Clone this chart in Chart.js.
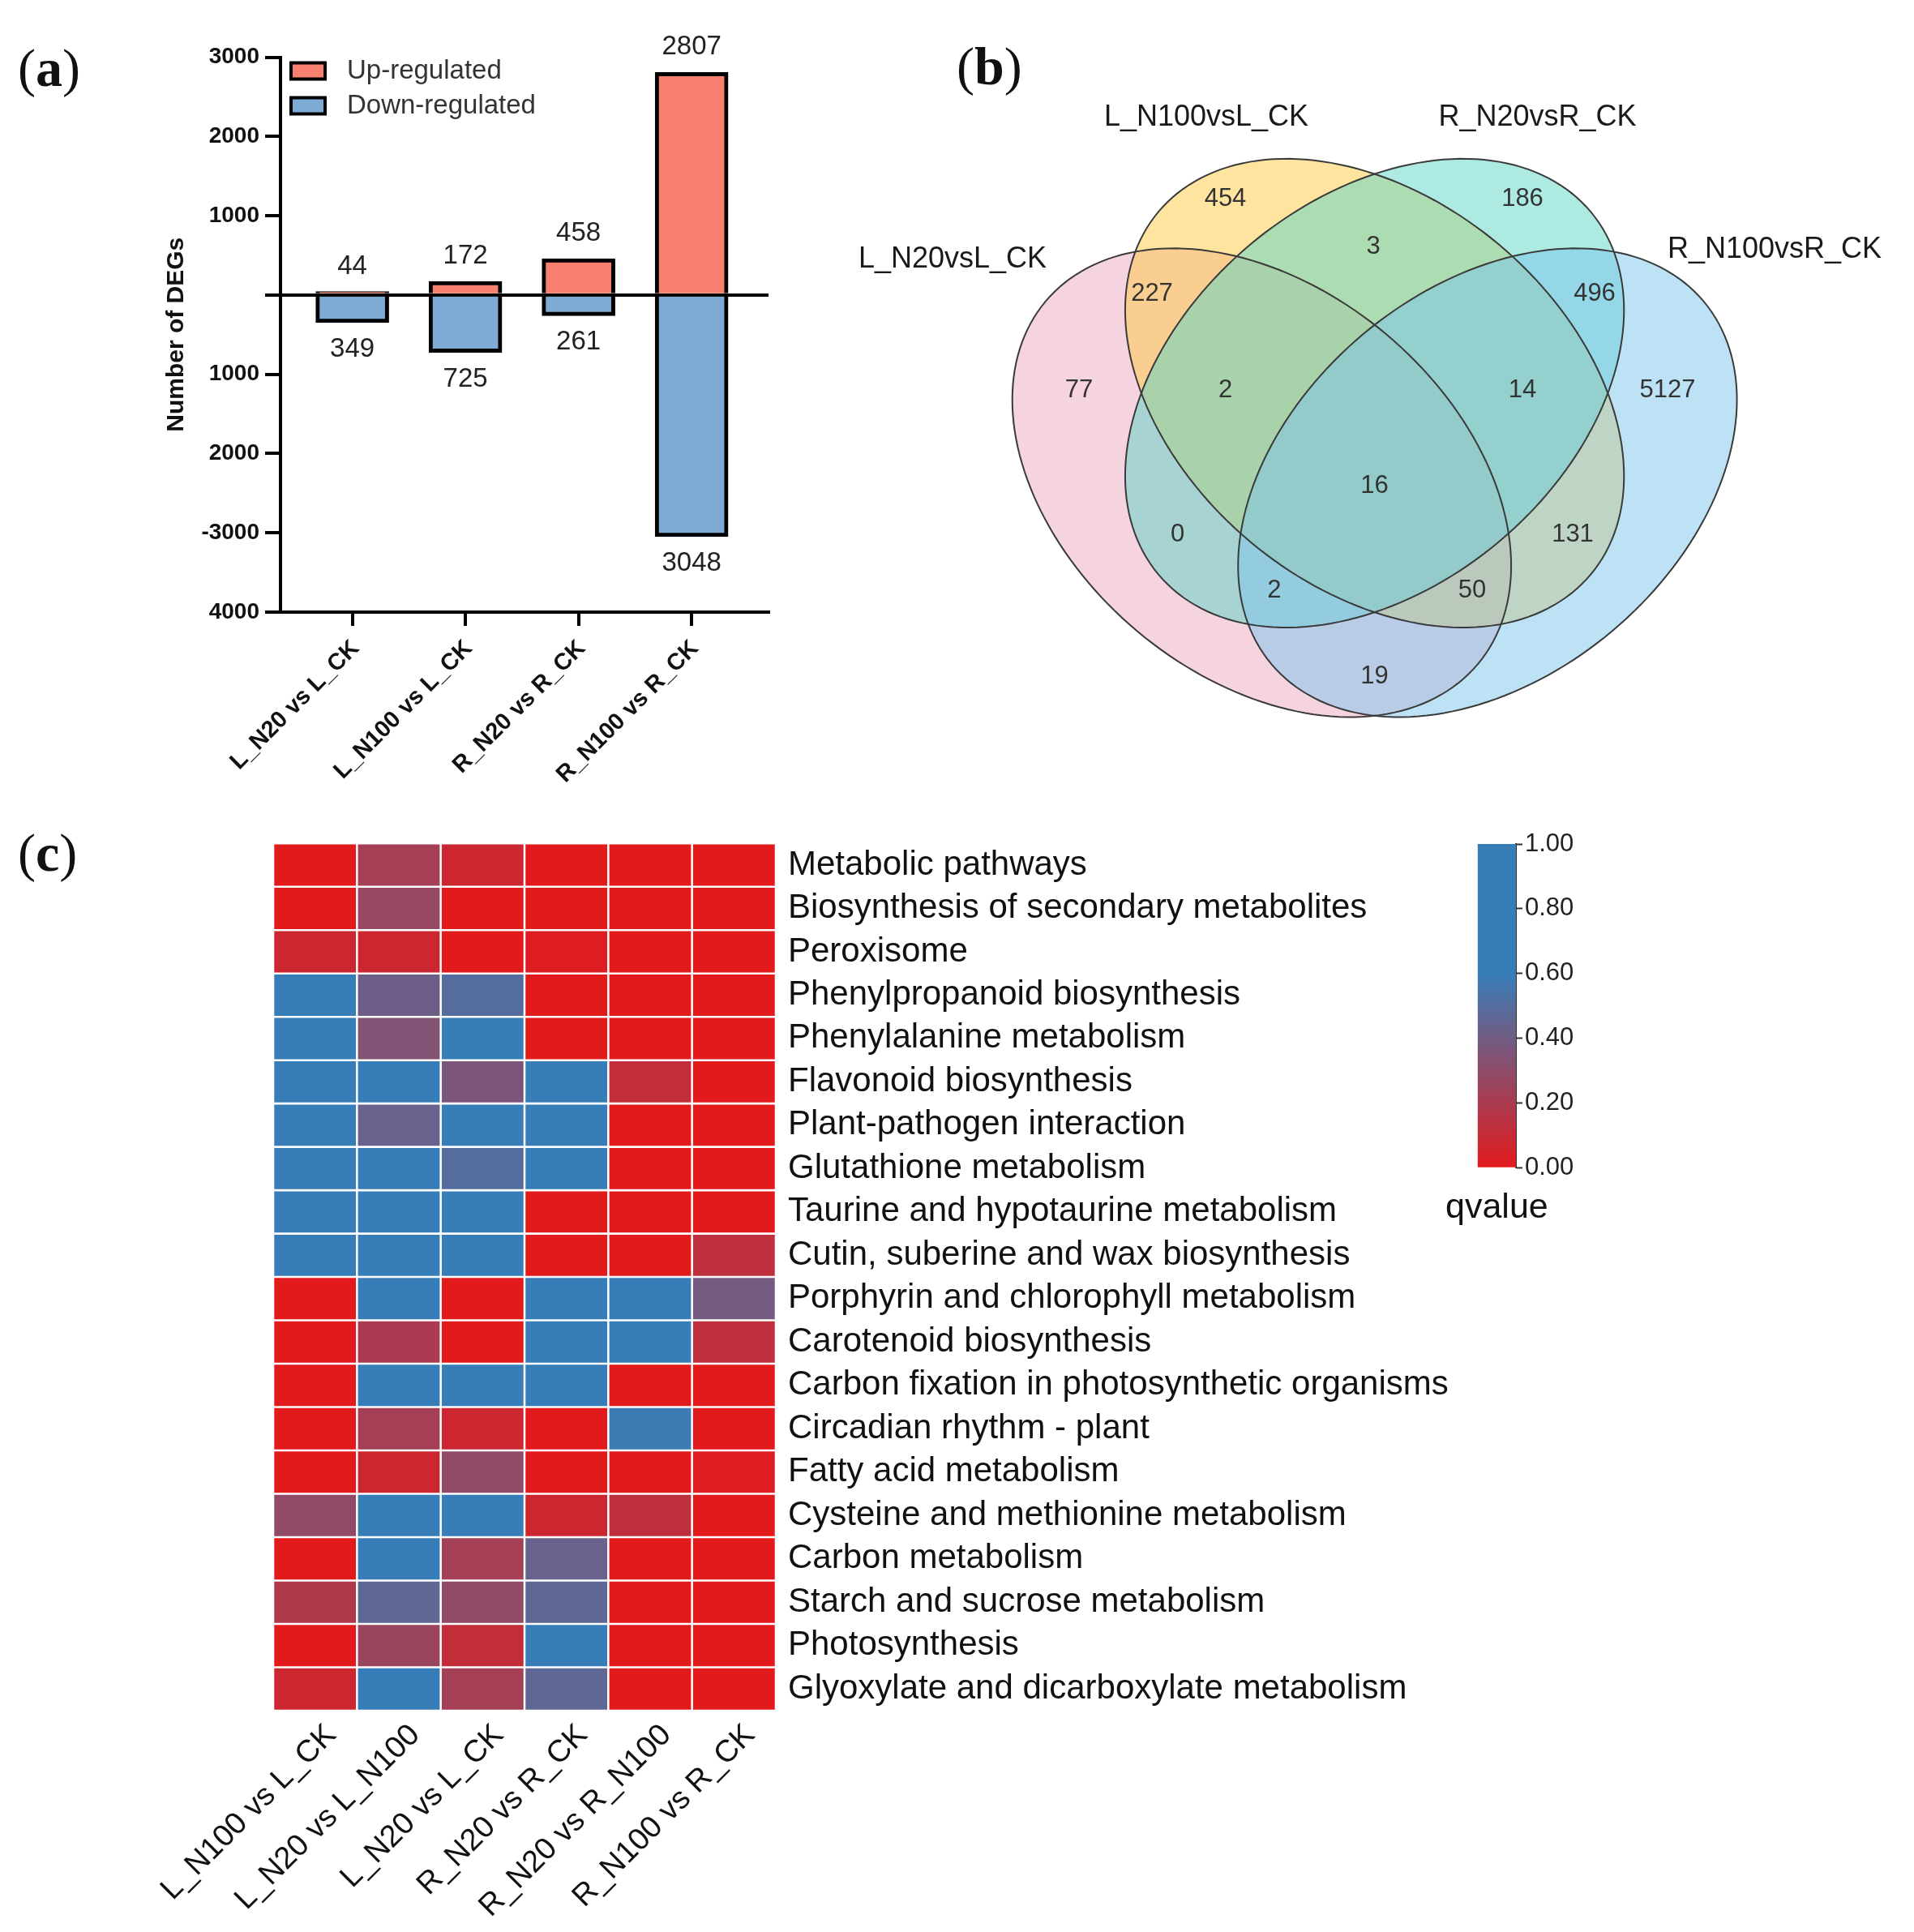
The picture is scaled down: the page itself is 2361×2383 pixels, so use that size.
<!DOCTYPE html>
<html>
<head>
<meta charset="utf-8">
<script src="https://cdn.jsdelivr.net/npm/chart.js@4.4.1/dist/chart.umd.min.js"></script>
<style>
html,body{margin:0;padding:0;background:#fff;width:2361px;height:2383px;overflow:hidden;}
canvas{position:absolute;}
.plabel{position:absolute;font-family:"Liberation Serif","DejaVu Serif",serif;font-size:66px;color:#111;line-height:1;white-space:nowrap;}
.plabel b{font-weight:bold;}
</style>
</head>
<body>
<div class="plabel" style="left:22px;top:51px">(<b>a</b>)</div>
<div class="plabel" style="left:1180px;top:49px">(<b>b</b>)</div>
<div class="plabel" style="left:22px;top:1019px">(<b>c</b>)</div>
<canvas id="barChart" width="1040" height="1000" style="left:0;top:0;"></canvas>
<canvas id="vennChart" width="1321" height="850" style="left:1040px;top:100px;"></canvas>
<canvas id="heatChart" width="1800" height="1383" style="left:0;top:1000px;"></canvas>
<canvas id="cbarChart" width="420" height="560" style="left:1700px;top:1000px;"></canvas>
<script>
// ---------------- DATA ----------------
// (a) number of DEGs
const degCategories = ['L_N20 vs L_CK', 'L_N100 vs L_CK', 'R_N20 vs R_CK', 'R_N100 vs R_CK'];
const upRegulated = [44, 172, 458, 2807];
const downRegulated = [349, 725, 261, 3048];
const degTickLabels = ['4000', '-3000', '2000', '1000', '', '1000', '2000', '3000']; // -4000 .. 3000

// (b) Venn diagram
const vennSets = ['L_N20vsL_CK', 'L_N100vsL_CK', 'R_N20vsR_CK', 'R_N100vsR_CK'];
const vennCounts = [454, 186, 3, 227, 496, 77, 2, 14, 5127, 16, 0, 131, 2, 50, 19];

// (c) KEGG heatmap (qvalue)
const pathways = [
  'Metabolic pathways', 'Biosynthesis of secondary metabolites', 'Peroxisome',
  'Phenylpropanoid biosynthesis', 'Phenylalanine metabolism', 'Flavonoid biosynthesis',
  'Plant-pathogen interaction', 'Glutathione metabolism', 'Taurine and hypotaurine metabolism',
  'Cutin, suberine and wax biosynthesis', 'Porphyrin and chlorophyll metabolism',
  'Carotenoid biosynthesis', 'Carbon fixation in photosynthetic organisms',
  'Circadian rhythm - plant', 'Fatty acid metabolism', 'Cysteine and methionine metabolism',
  'Carbon metabolism', 'Starch and sucrose metabolism', 'Photosynthesis',
  'Glyoxylate and dicarboxylate metabolism'
];
const comparisons = ['L_N100 vs L_CK', 'L_N20 vs L_N100', 'L_N20 vs L_CK', 'R_N20 vs R_CK', 'R_N20 vs R_N100', 'R_N100 vs R_CK'];
const q_LN100_vs_LCK   = [0.00, 0.00, 0.08, 0.85, 0.80, 0.90, 0.78, 0.82, 0.88, 0.86, 0.00, 0.00, 0.00, 0.00, 0.00, 0.29, 0.00, 0.18, 0.00, 0.08];
const q_LN20_vs_LN100  = [0.22, 0.27, 0.08, 0.41, 0.34, 0.75, 0.43, 0.80, 0.92, 0.88, 0.83, 0.20, 0.77, 0.22, 0.08, 0.79, 0.84, 0.46, 0.25, 0.70];
const q_LN20_vs_LCK    = [0.08, 0.00, 0.00, 0.50, 0.72, 0.36, 0.68, 0.50, 0.81, 0.76, 0.00, 0.00, 0.74, 0.08, 0.29, 0.71, 0.22, 0.29, 0.11, 0.22];
const q_RN20_vs_RCK    = [0.00, 0.00, 0.02, 0.00, 0.00, 0.66, 0.70, 0.69, 0.00, 0.00, 0.73, 0.79, 0.65, 0.00, 0.00, 0.08, 0.43, 0.46, 0.62, 0.46];
const q_RN20_vs_RN100  = [0.00, 0.00, 0.00, 0.00, 0.00, 0.11, 0.00, 0.00, 0.00, 0.00, 0.64, 0.67, 0.00, 0.58, 0.00, 0.13, 0.00, 0.00, 0.00, 0.00];
const q_RN100_vs_RCK   = [0.00, 0.00, 0.00, 0.00, 0.00, 0.00, 0.00, 0.00, 0.00, 0.13, 0.39, 0.13, 0.00, 0.00, 0.02, 0.00, 0.00, 0.00, 0.00, 0.00];
const qColumns = [q_LN100_vs_LCK, q_LN20_vs_LN100, q_LN20_vs_LCK, q_RN20_vs_RCK, q_RN20_vs_RN100, q_RN100_vs_RCK];
const cbarTickLabels = ['0.00', '0.20', '0.40', '0.60', '0.80', '1.00'];

// ---------------- LAYOUT / STYLE (not data) ----------------
const FONT = '"Liberation Sans", Arial, Helvetica, sans-serif';
Chart.defaults.font.family = FONT;
Chart.defaults.animation = false;
const UP_COLOR = '#F8806F';
const DOWN_COLOR = '#7EABD3';
const cmapStops = [[0, [227, 26, 28]], [0.6, [55, 126, 184]], [1, [55, 126, 184]]];
function qColor(q) {
  for (let i = 1; i < cmapStops.length; i++) {
    const [v0, c0] = cmapStops[i - 1], [v1, c1] = cmapStops[i];
    if (q <= v1) {
      const t = (q - v0) / (v1 - v0);
      const c = c0.map((x, k) => Math.round(x + (c1[k] - x) * t));
      return `rgb(${c[0]},${c[1]},${c[2]})`;
    }
  }
  const c = cmapStops[cmapStops.length - 1][1];
  return `rgb(${c[0]},${c[1]},${c[2]})`;
}
// Venn geometry (units of the venn chart's scales)
const vennEllipses = [
  { cx: 0.4564, cy: 0.3546, a: 0.348, b: 0.239, rot: -40, fill: 'rgba(235,169,193,0.5)' },
  { cx: 0.5956, cy: 0.4651, a: 0.348, b: 0.239, rot: -40, fill: 'rgba(255,201,65,0.5)' },
  { cx: 0.5956, cy: 0.4651, a: 0.348, b: 0.239, rot: 40,  fill: 'rgba(89,213,197,0.5)' },
  { cx: 0.7349, cy: 0.3546, a: 0.348, b: 0.239, rot: 40,  fill: 'rgba(125,197,235,0.5)' }
];
const vennCountPos = [[0.4115,0.705],[0.778,0.705],[0.594,0.646],[0.321,0.588],[0.867,0.588],[0.231,0.4685],[0.4115,0.4685],[0.778,0.4685],[0.957,0.4685],[0.5956,0.351],[0.3526,0.291],[0.840,0.291],[0.4718,0.222],[0.716,0.222],[0.5956,0.116]];
const vennSetPos = [[0.075,0.63],[0.388,0.805],[0.7965,0.805],[1.089,0.642]];

// ---------------- (a) BAR CHART ----------------
const barLabelPlugin = {
  id: 'barLabels',
  afterDatasetsDraw(chart) {
    const c = chart.ctx;
    c.save();
    c.font = '33px ' + FONT;
    c.fillStyle = '#222';
    c.textAlign = 'center';
    c.textBaseline = 'middle';
    chart.getDatasetMeta(0).data.forEach((el, i) => c.fillText(String(upRegulated[i]), el.x, el.y - 31));
    chart.getDatasetMeta(1).data.forEach((el, i) => c.fillText(String(downRegulated[i]), el.x, el.y + 33));
    // legend
    const ca = chart.chartArea;
    chart.data.datasets.forEach((ds, i) => {
      const y = ca.top + 7 + i * 43;
      c.fillStyle = ds.backgroundColor;
      c.fillRect(ca.left + 13, y, 42, 20);
      c.lineWidth = 4;
      c.strokeStyle = '#000';
      c.strokeRect(ca.left + 13, y, 42, 20);
      c.fillStyle = '#333';
      c.textAlign = 'left';
      c.fillText(ds.label, ca.left + 82, y + 10);
    });
    c.restore();
  }
};
new Chart(document.getElementById('barChart'), {
  type: 'bar',
  data: {
    datasets: [
      { label: 'Up-regulated', data: upRegulated.map((v, i) => ({ x: i + 1, y: v })),
        backgroundColor: UP_COLOR, borderColor: '#000', borderWidth: 5, borderSkipped: 'start', barThickness: 90 },
      { label: 'Down-regulated', data: downRegulated.map((v, i) => ({ x: i + 1, y: -v })),
        backgroundColor: DOWN_COLOR, borderColor: '#000', borderWidth: 5, borderSkipped: 'start', barThickness: 90 }
    ]
  },
  options: {
    responsive: false,
    animation: false,
    layout: { padding: { left: 0, right: 92, top: 70.5, bottom: 0 } },
    plugins: { legend: { display: false }, tooltip: { enabled: false } },
    scales: {
      x: {
        type: 'linear', stacked: true, min: 0.365, max: 4.68, offset: false,
        afterBuildTicks: (s) => { s.ticks = degCategories.map((_, i) => ({ value: i + 1 })); },
        afterFit: (s) => { s.height = 245; },
        grid: { offset: false, drawOnChartArea: false, color: '#000', tickColor: '#000', tickLength: 17, tickWidth: 4, lineWidth: 4 },
        border: { color: '#000', width: 4 },
        ticks: { includeBounds: false, autoSkip: false, minRotation: 45, maxRotation: 45, padding: 11, labelOffset: 4,
          color: '#111', font: { size: 29, weight: 'bold' },
          callback: (v) => degCategories[v - 1] }
      },
      y: {
        type: 'linear', stacked: true, min: -4000, max: 3000,
        afterFit: (s) => { s.width = 346; },
        grid: { color: (ctx) => (ctx.tick && ctx.tick.value === 0 ? '#000' : 'rgba(0,0,0,0)'),
          lineWidth: 4, tickColor: '#000', tickLength: 19, tickWidth: 4 },
        border: { color: '#000', width: 4 },
        ticks: { stepSize: 1000, padding: 7, color: '#111', font: { size: 28, weight: 'bold' },
          callback: (v, i) => degTickLabels[i] },
        title: { display: true, text: 'Number of DEGs', color: '#111',
          font: { size: 30, weight: 'bold' }, padding: { top: 200, bottom: 0 } }
      }
    }
  },
  plugins: [barLabelPlugin]
});

// ---------------- (b) VENN ----------------
const vennPlugin = {
  id: 'venn',
  beforeDatasetsDraw(chart) {
    const c = chart.ctx, xs = chart.scales.x, ys = chart.scales.y;
    const path = (e) => {
      const th = e.rot * Math.PI / 180;
      c.beginPath();
      for (let k = 0; k <= 180; k++) {
        const t = 2 * Math.PI * k / 180;
        const dx = e.a * Math.cos(t) * Math.cos(th) - e.b * Math.sin(t) * Math.sin(th);
        const dy = e.a * Math.cos(t) * Math.sin(th) + e.b * Math.sin(t) * Math.cos(th);
        const px = xs.getPixelForValue(e.cx + dx), py = ys.getPixelForValue(e.cy + dy);
        if (k === 0) c.moveTo(px, py); else c.lineTo(px, py);
      }
      c.closePath();
    };
    c.save();
    vennEllipses.forEach((e) => { path(e); c.fillStyle = e.fill; c.fill(); });
    c.lineWidth = 2;
    c.strokeStyle = '#3a3a3a';
    vennEllipses.forEach((e) => { path(e); c.stroke(); });
    c.restore();
  },
  afterDatasetsDraw(chart) {
    const c = chart.ctx;
    c.save();
    c.textAlign = 'center';
    c.textBaseline = 'middle';
    c.font = '31px ' + FONT;
    c.fillStyle = '#333';
    chart.getDatasetMeta(0).data.forEach((el, i) => c.fillText(String(vennCounts[i]), el.x, el.y));
    c.font = '36px ' + FONT;
    c.fillStyle = '#1a1a1a';
    chart.getDatasetMeta(1).data.forEach((el, i) => c.fillText(vennSets[i], el.x, el.y));
    c.restore();
  }
};
new Chart(document.getElementById('vennChart'), {
  type: 'scatter',
  data: {
    datasets: [
      { data: vennCountPos.map(([x, y]) => ({ x, y })), pointRadius: 0 },
      { data: vennSetPos.map(([x, y]) => ({ x, y })), pointRadius: 0 }
    ]
  },
  options: {
    responsive: false, animation: false,
    layout: { padding: 0 },
    plugins: { legend: { display: false }, tooltip: { enabled: false } },
    scales: {
      x: { type: 'linear', min: -0.06, max: 1.261, display: false },
      y: { type: 'linear', min: 0, max: 0.85, display: false }
    }
  },
  plugins: [vennPlugin]
});

// ---------------- (c) HEATMAP ----------------
new Chart(document.getElementById('heatChart'), {
  type: 'bar',
  data: {
    labels: pathways,
    datasets: comparisons.map((name, c) => ({
      label: name,
      data: qColumns[c].map(() => 1),
      backgroundColor: qColumns[c].map(qColor),
      borderColor: '#ffffff', borderWidth: 1.6, borderSkipped: false,
      barPercentage: 1, categoryPercentage: 1,
      xAxisID: 'x', yAxisID: 'y'
    }))
  },
  options: {
    indexAxis: 'y',
    responsive: false, animation: false,
    layout: { padding: { left: 337, top: 38, right: 0, bottom: 0 } },
    plugins: { legend: { display: false }, tooltip: { enabled: false } },
    scales: {
      x: { type: 'linear', stacked: true, min: 0, max: comparisons.length, display: false },
      y: {
        type: 'category', stacked: true, position: 'right', offset: true,
        grid: { display: false, drawTicks: false }, border: { display: false },
        ticks: { autoSkip: false, padding: 15, color: '#111', font: { size: 42 } },
        afterFit: (s) => { s.width = 843; }
      },
      x2: {
        type: 'category', labels: comparisons, position: 'bottom', offset: true, display: true,
        grid: { display: false, drawTicks: false }, border: { display: false },
        ticks: { autoSkip: false, minRotation: 45, maxRotation: 45, padding: 8, labelOffset: 20, color: '#111', font: { size: 38 } },
        afterFit: (s) => { s.height = 273; }
      }
    }
  }
});

// ---------------- colour bar ----------------
new Chart(document.getElementById('cbarChart'), {
  type: 'bar',
  data: {
    labels: ['qvalue'],
    datasets: [{
      data: [1],
      barPercentage: 1, categoryPercentage: 1, borderWidth: 0,
      backgroundColor: (ctx) => {
        const ch = ctx.chart;
        if (!ch.chartArea) return 'rgba(0,0,0,0)';
        const ys = ch.scales.y;
        const g = ch.ctx.createLinearGradient(0, ys.getPixelForValue(0), 0, ys.getPixelForValue(1));
        cmapStops.forEach(([v, c]) => g.addColorStop(v, `rgb(${c[0]},${c[1]},${c[2]})`));
        return g;
      }
    }]
  },
  options: {
    responsive: false, animation: false,
    layout: { padding: { left: 118, top: 41, right: 0, bottom: 0 } },
    plugins: { legend: { display: false }, tooltip: { enabled: false } },
    scales: {
      x: {
        grid: { display: false, drawTicks: false }, border: { display: false },
        ticks: { padding: 24, color: '#111', font: { size: 43 } },
        afterFit: (s) => { s.height = 120; }
      },
      y: {
        position: 'right', min: 0, max: 1,
        grid: { drawOnChartArea: false, tickLength: 8, tickColor: '#333', tickWidth: 2 },
        border: { color: '#333', width: 2 },
        ticks: { stepSize: 0.2, padding: 3, color: '#222', font: { size: 31 },
          callback: (v, i) => cbarTickLabels[i] },
        afterFit: (s) => { s.width = 250; }
      }
    }
  }
});
</script>
</body>
</html>
